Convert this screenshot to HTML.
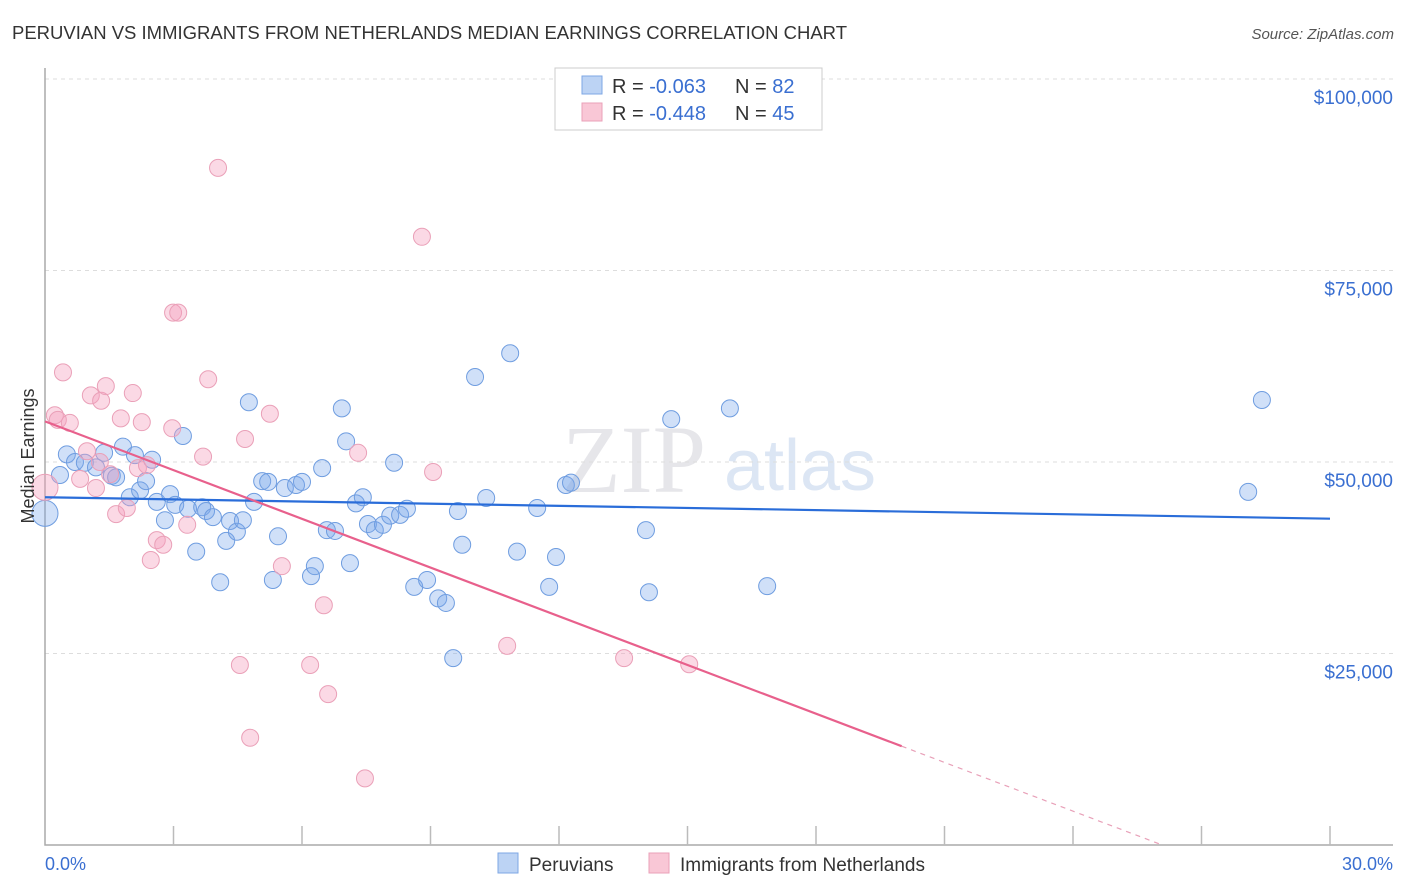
<!DOCTYPE html>
<html><head><meta charset="utf-8"><style>
body{margin:0;background:#fff;font-family:"Liberation Sans",sans-serif;}
svg{display:block}
</style></head><body>
<svg id="chart" width="1406" height="892" xmlns="http://www.w3.org/2000/svg">
<text x="12" y="39" font-size="18" fill="#333" textLength="835" lengthAdjust="spacingAndGlyphs">PERUVIAN VS IMMIGRANTS FROM NETHERLANDS MEDIAN EARNINGS CORRELATION CHART</text>
<text x="1394" y="39" font-size="15" fill="#555" font-style="italic" text-anchor="end">Source: ZipAtlas.com</text>
<text x="634" y="492" font-size="96" fill="#e6e6ea" font-family="Liberation Serif,serif" text-anchor="middle">ZIP</text>
<text x="800" y="490" font-size="72" fill="#dce6f4" text-anchor="middle">atlas</text>
<g id="grid"></g><g id="axes"></g><g id="pts"></g><g id="lines"></g>
<text transform="translate(34,456) rotate(-90)" font-size="18" fill="#333" text-anchor="middle">Median Earnings</text>
<text x="45" y="870" font-size="18" fill="#3a6fd1">0.0%</text>
<text x="1393" y="870" font-size="18" fill="#3a6fd1" text-anchor="end">30.0%</text>
<g>
<rect x="555" y="68" width="267" height="62" fill="#fff" stroke="#ccc"/>
<rect x="582" y="76" width="20" height="18" fill="#bcd3f4" stroke="#7ea7e4"/>
<rect x="582" y="103" width="20" height="18" fill="#f9c7d6" stroke="#eaa0b8"/>
<text x="612" y="93" font-size="20" fill="#333">R = <tspan fill="#3a6fd1">-0.063</tspan></text>
<text x="735" y="93" font-size="20" fill="#333">N = <tspan fill="#3a6fd1">82</tspan></text>
<text x="612" y="120" font-size="20" fill="#333">R = <tspan fill="#3a6fd1">-0.448</tspan></text>
<text x="735" y="120" font-size="20" fill="#333">N = <tspan fill="#3a6fd1">45</tspan></text>
</g>
<g>
<rect x="498" y="853" width="20" height="20" fill="#bcd3f4" stroke="#7ea7e4"/>
<text x="529" y="871" font-size="19" fill="#333">Peruvians</text>
<rect x="649" y="853" width="20" height="20" fill="#f9c7d6" stroke="#eaa0b8"/>
<text x="680" y="871" font-size="19" fill="#333">Immigrants from Netherlands</text>
</g>
</svg>
<script>
const yTicks=[25000,50000,75000,100000];
const yTickLabels=["$25,000","$50,000","$75,000","$100,000"];
const blueX=[0,0.51,0.35,0.70,0.93,1.19,1.38,1.56,1.66,1.82,1.98,2.10,2.22,2.36,2.50,2.61,2.80,2.92,3.04,3.22,3.34,3.53,3.67,3.76,3.92,4.09,4.23,4.32,4.48,4.62,4.76,4.88,5.07,5.21,5.32,5.44,5.60,5.86,6.00,6.21,6.30,6.47,6.58,6.77,6.93,7.03,7.12,7.26,7.42,7.54,7.70,7.89,8.06,8.15,8.29,8.45,8.62,8.92,9.18,9.36,9.53,9.64,9.74,10.04,10.30,10.86,11.02,11.49,11.77,11.93,12.16,12.28,14.03,14.10,14.62,15.99,16.86,28.09,28.41];
const blueY=[43.3,51.0,48.3,50.0,49.9,49.3,51.2,48.2,48.0,52.0,45.4,50.9,46.3,47.5,50.3,44.8,42.4,45.8,44.4,53.4,43.9,38.3,44.1,43.6,42.8,34.3,39.7,42.3,40.9,42.4,57.8,44.8,47.5,47.4,34.6,40.3,46.6,47.0,47.4,35.1,36.4,49.2,41.1,41.0,57.0,52.7,36.8,44.6,45.4,41.9,41.1,41.8,43.0,49.9,43.1,43.9,33.7,34.6,32.2,31.6,24.4,43.6,39.2,61.1,45.3,64.2,38.3,44.0,33.7,37.6,47.0,47.3,41.1,33.0,55.6,57.0,33.8,46.1,58.1];
const pinkX=[0,0.23,0.30,0.42,0.58,0.82,0.98,1.07,1.19,1.28,1.31,1.42,1.52,1.66,1.77,1.91,2.05,2.17,2.26,2.38,2.47,2.61,2.76,2.97,2.99,3.11,3.32,3.69,3.81,4.04,4.55,4.67,4.79,5.25,5.53,6.19,6.51,6.61,7.31,7.47,8.80,9.06,10.79,13.52,15.04];
const pinkY=[46.7,56.1,55.5,61.7,55.1,47.8,51.4,58.7,46.6,50.0,58.0,59.9,48.4,43.2,55.7,44.0,59.0,49.2,55.2,49.6,37.2,39.8,39.2,54.4,69.5,69.5,41.8,50.7,60.8,88.4,23.5,53.0,14.0,56.3,36.4,23.5,31.3,19.7,51.2,8.7,79.4,48.7,26.0,24.4,23.6];
const blueTrend=[45.4,42.6];
const pinkTrend=[55.3,-2.12];
const NS="http://www.w3.org/2000/svg";
const X=v=>45+v*(1285/30);
const Y=k=>845-k*7.66;
function mk(tag,attrs,parent){const e=document.createElementNS(NS,tag);for(const k in attrs)e.setAttribute(k,attrs[k]);document.getElementById(parent).appendChild(e);return e;}
yTicks.forEach((t,i)=>{const y=Y(t/1000);
 const l=mk('line',{x1:45,x2:1393,y1:y,y2:y,stroke:'#ddd','stroke-dasharray':'4,4'},'grid');
 
 
 const tx=mk('text',{x:1393,y:y+25,'font-size':19,fill:'#3a6fd1','text-anchor':'end'},'grid');
 tx.textContent=yTickLabels[i];
 
 
});
const ax=mk('path',{d:'M45 68V845H1393',fill:'none',stroke:'#aaa','stroke-width':1.5},'axes');


for(let i=1;i<=10;i++){const x=X(i*3);
 const t=mk('line',{x1:x,x2:x,y1:826,y2:845,stroke:'#bbb','stroke-width':1.5},'axes');
 
 
}
function dots(xs,ys,fill,stroke,name){xs.forEach((v,i)=>{
 const r=(i===0)?13:8.5;
 const c=mk('circle',{cx:X(v),cy:Y(ys[i]),r:r,fill:fill,stroke:stroke,'stroke-width':1},'pts');
 
 
});}
dots(blueX,blueY,'rgba(120,165,235,0.35)','#6f9de0','peruvian-point');
dots(pinkX,pinkY,'rgba(245,160,190,0.4)','#eaa0b8','netherlands-point');
const bl=mk('line',{x1:X(0),y1:Y(blueTrend[0]),x2:X(30),y2:Y(blueTrend[1]),stroke:'#2a6dd9','stroke-width':2.2},'lines');


const pAt=x=>pinkTrend[0]+pinkTrend[1]*x;
const x0=-pinkTrend[0]/pinkTrend[1];
const pl=mk('line',{x1:X(0),y1:Y(pAt(0)),x2:X(20),y2:Y(pAt(20)),stroke:'#e8608c','stroke-width':2.2},'lines');


const pd=mk('line',{x1:X(20),y1:Y(pAt(20)),x2:X(x0),y2:Y(0),stroke:'#e8a0b8','stroke-width':1.2,'stroke-dasharray':'5,5'},'lines');


</script>
</body></html>
